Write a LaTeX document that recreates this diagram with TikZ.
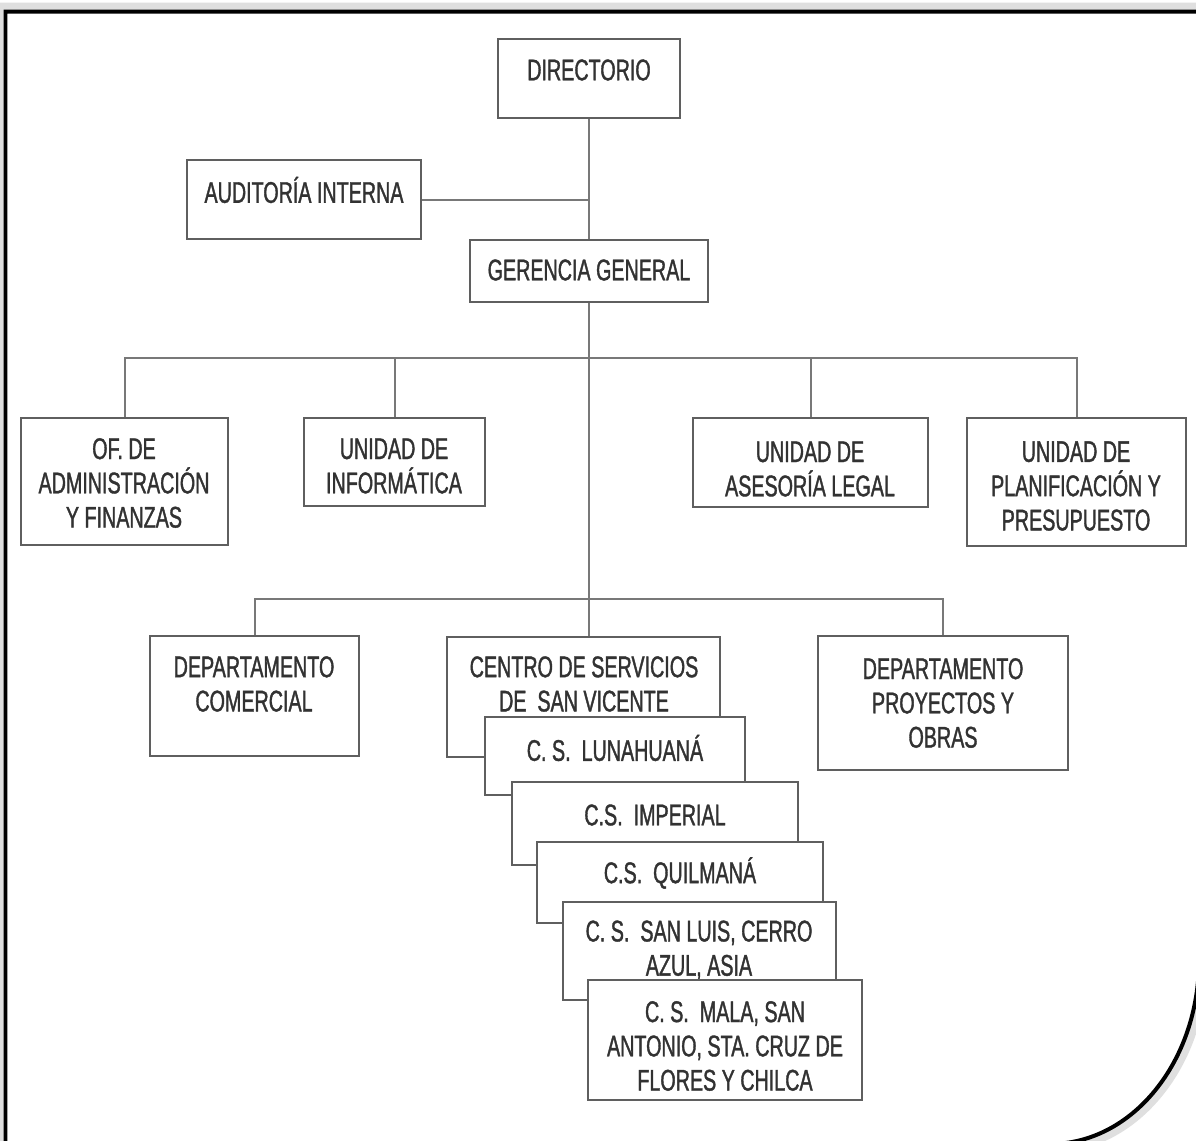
\documentclass[tikz,border=0pt]{standalone}
\usepackage{fontspec}
\newfontfamily\orgfont{Liberation Sans}[FakeStretch=0.66, FakeBold=1.2]
\usepackage{tikz}
\usetikzlibrary{fit}
\usepackage{xcolor}
\definecolor{boxgray}{RGB}{95,95,95}
\definecolor{linegray}{RGB}{120,120,120}
\definecolor{txtgray}{RGB}{50,50,50}

\begin{document}
\begin{tikzpicture}[x=0.02cm, y=-0.02cm,
        bx/.style={draw=boxgray, line width=0.05cm, fill=white, inner sep=0pt},
        tx/.style={text=txtgray, align=center, inner sep=0pt, font=\orgfont\fontsize{17}{19.5}\selectfont},
        ln/.style={draw=linegray, line width=0.04cm}]
            \useasboundingbox (0,0) rectangle (1196,1140);
            \fill[white] (0,0) rectangle (1196,1140);
            % frame with soft edge
            \draw[gray!25, line width=0.36cm] (5.5,11.5) -- (1199,11.5) -- (1199,960)
                arc[start angle=0, end angle=90, x radius=149, y radius=184] -- (5.5,1144) -- cycle;
            \draw[fill=white, line width=0.08cm] (5.5,11.5) -- (1199,11.5) -- (1199,960)
                arc[start angle=0, end angle=90, x radius=149, y radius=184] -- (5.5,1144) -- cycle;

            \node[bx, fit={(498,39) (680,118)}] (dir) {};
            \node[tx] (dirt) at (589,70) {DIRECTORIO};
            \node[bx, fit={(187,160) (421,239)}] (aud) {};
            \node[tx] (audt) at (304,190) {AUDITORÍA INTERNA};
            \node[bx, fit={(470,240) (708,302)}] (ger) {};
            \node[tx] (gert) at (589,270) {GERENCIA GENERAL};

            \node[bx, fit={(21,418) (228,545)}] (adm) {};
            \node[tx] (admt) at (124,483) {OF. DE\\ADMINISTRACIÓN\\Y FINANZAS};
            \node[bx, fit={(304,418) (485,506)}] (inf) {};
            \node[tx] (inft) at (394,466) {UNIDAD DE\\INFORMÁTICA};
            \node[bx, fit={(693,418) (928,507)}] (leg) {};
            \node[tx] (legt) at (810,469) {UNIDAD DE\\ASESORÍA LEGAL};
            \node[bx, fit={(967,418) (1186,546)}] (pla) {};
            \node[tx] (plat) at (1076,486) {UNIDAD DE\\PLANIFICACIÓN Y\\PRESUPUESTO};

            \node[bx, fit={(150,636) (359,756)}] (com) {};
            \node[tx] (comt) at (254,684) {DEPARTAMENTO\\COMERCIAL};
            \node[bx, fit={(818,636) (1068,770)}] (prj) {};
            \node[tx] (prjt) at (943,703) {DEPARTAMENTO\\PROYECTOS Y\\OBRAS};

            % centros de servicio, one over the other
            \node[bx, fit={(447,637) (720,757)}] (csv) {};
            \node[tx] (csvt) at (584,684) {CENTRO DE SERVICIOS\\DE\ \ SAN VICENTE};
            \node[bx, fit={(485,717) (745,795)}] (lun) {};
            \node[tx] (lunt) at (615,748) {C. S.\ \ LUNAHUANÁ};
            \node[bx, fit={(512,782) (798,865)}] (imp) {};
            \node[tx] (impt) at (655,815) {C.S.\ \ IMPERIAL};
            \node[bx, fit={(537,842) (823,923)}] (qui) {};
            \node[tx] (quit) at (680,873) {C.S.\ \ QUILMANÁ};
            \node[bx, fit={(563,902) (836,1000)}] (slu) {};
            \node[tx] (slut) at (699,950) {C. S.\ \ SAN LUIS, CERRO\\AZUL, ASIA};
            \node[bx, fit={(588,980) (862,1100)}] (mal) {};
            \node[tx] (malt) at (725,1046) {C. S.\ \ MALA, SAN\\ANTONIO, STA. CRUZ DE\\FLORES Y CHILCA};

            \coordinate (bus1) at (589,358);
            \coordinate (bus2) at (589,599);

            \draw[ln] (dir) -- (ger);
            \draw[ln] (aud.east) -- (aud.east -| dir.south);
            \draw[ln] (ger) -- (ger |- csv.north);
            \draw[ln] (adm.north) |- (bus1) -| (pla.north);
            \draw[ln] (inf.north) -- (inf.north |- bus1);
            \draw[ln] (leg.north) -- (leg.north |- bus1);
            \draw[ln] (com.north) |- (bus2) -| (prj.north);
        \end{tikzpicture}
\end{document}
